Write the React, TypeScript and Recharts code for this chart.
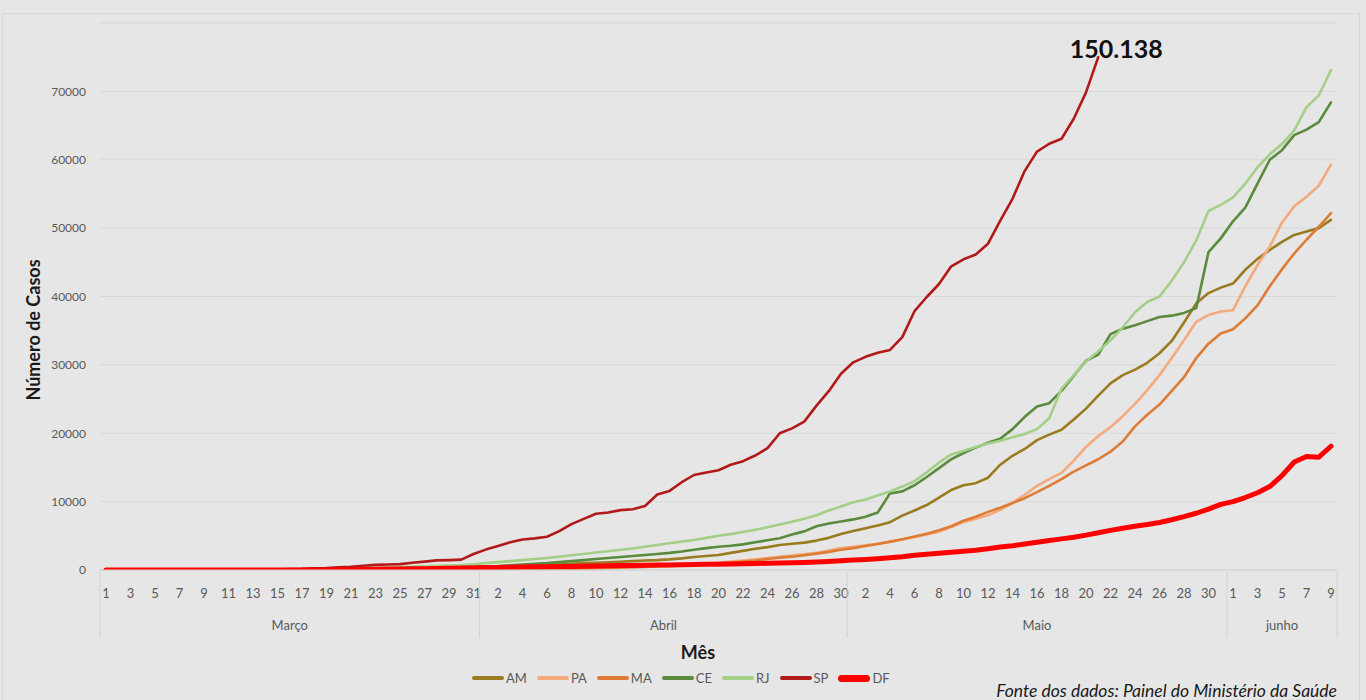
import React from 'react';
import { LineChart, Line, XAxis, YAxis, CartesianGrid } from 'recharts';

// ---------- categories ----------
const monthNames = ['Março', 'Abril', 'Maio', 'junho'];
const monthLengths = [31, 30, 31, 9];
const yTicks = [0, 10000, 20000, 30000, 40000, 50000, 60000, 70000];
const spTotalLabel = '150.138';

// ---------- series (Mar 1 .. Jun 9) ----------
const AM = [
  0, 0, 0, 0, 0, 0, 0, 0, 0, 0, 0, 0, 1, 1, 1, 1, 2, 3, 7, 11, 26, 32, 47, 54, 67, 81, 111, 140, 151, 175, 200,
  230, 260, 310, 400, 530, 640, 800, 900, 1000, 1050, 1120, 1200, 1300, 1400, 1450, 1550, 1700, 1900, 2050, 2200,
  2500, 2800, 3100, 3350, 3650, 3850, 4000, 4300, 4700, 5250,
  5700, 6100, 6500, 7000, 7950, 8700, 9500, 10600, 11700, 12400, 12700, 13500, 15400, 16700, 17700, 19000, 19800,
  20500, 22000, 23600, 25500, 27300, 28500, 29300, 30300, 31700, 33500, 36200, 39000, 40500, 41300,
  41900, 43900, 45500, 46800, 48000, 49000, 49500, 50000, 51200,
];
const PA = [
  0, 0, 0, 0, 0, 0, 0, 0, 0, 0, 0, 0, 0, 0, 0, 0, 0, 1, 1, 2, 4, 5, 11, 13, 18, 21, 26, 28, 33, 37, 41,
  50, 60, 80, 100, 120, 140, 170, 200, 250, 300, 350, 400, 450, 520, 600, 680, 780, 880, 980, 1100,
  1250, 1400, 1550, 1750, 1950, 2100, 2300, 2500, 2850, 3200,
  3400, 3600, 3850, 4100, 4450, 4800, 5200, 5600, 6300, 7000, 7500, 8000, 8800, 9800, 11000, 12300, 13300,
  14200, 16000, 18000, 19600, 20900, 22500, 24300, 26300, 28500, 31000, 33600, 36300, 37300, 37800,
  38000, 41500, 44600, 47300, 50800, 53200, 54600, 56200, 59300,
];
const MA = [
  0, 0, 0, 0, 0, 0, 0, 0, 0, 0, 0, 0, 0, 0, 0, 0, 0, 0, 0, 1, 2, 2, 3, 8, 10, 22, 24, 31, 36, 38, 43,
  50, 60, 80, 100, 120, 140, 170, 200, 230, 260, 300, 350, 400, 460, 530, 600, 680, 770, 870, 980,
  1100, 1250, 1400, 1600, 1800, 1950, 2150, 2400, 2650, 2950,
  3200, 3500, 3800, 4150, 4500, 4900, 5300, 5800, 6400, 7200, 7800, 8500, 9100, 9800, 10500, 11400, 12300,
  13300, 14400, 15300, 16200, 17300, 18800, 21000, 22700, 24200, 26200, 28200, 31000, 33100, 34600,
  35200, 36800, 38700, 41500, 44000, 46300, 48300, 50200, 52200,
];
const CE = [
  0, 0, 0, 0, 0, 0, 0, 0, 0, 0, 0, 0, 0, 0, 0, 9, 10, 20, 20, 68, 84, 125, 163, 182, 200, 235, 282, 314, 348, 372, 401,
  480, 560, 680, 800, 900, 1000, 1150, 1300, 1450, 1600, 1750, 1900, 2050, 2200, 2350, 2500, 2700, 2950, 3200, 3400,
  3550, 3750, 4050, 4350, 4650, 5200, 5650, 6400, 6800, 7100,
  7400, 7800, 8400, 11200, 11500, 12400, 13600, 14900, 16200, 17100, 17900, 18600, 19200, 20600, 22400, 23900, 24400,
  26200, 28400, 30600, 31500, 34500, 35300, 35800, 36400, 37000, 37200, 37600, 38300, 46500, 48500,
  51000, 53000, 56500, 60000, 61400, 63600, 64400, 65500, 68400,
];
const RJ = [
  0, 0, 0, 0, 1, 1, 1, 1, 2, 3, 13, 16, 19, 24, 31, 33, 39, 65, 109, 119, 186, 233, 305, 370, 421, 493, 558, 600, 657, 708, 832,
  1000, 1150, 1300, 1450, 1600, 1750, 1950, 2150, 2350, 2550, 2750, 2950, 3150, 3400, 3650, 3900, 4150, 4400, 4700, 5000,
  5250, 5550, 5900, 6250, 6650, 7050, 7500, 8000, 8700, 9300,
  9900, 10300, 10900, 11500, 12200, 13000, 14300, 15700, 16900, 17400, 18000, 18500, 18900, 19400, 19900, 20600, 22200,
  26500, 28500, 30500, 32000, 33600, 35500, 37700, 39200, 40000, 42300, 45000, 48200, 52500, 53400,
  54500, 56500, 58900, 60800, 62300, 64300, 67700, 69400, 73100,
];
const SP: (number | null)[] = [
  0, 1, 1, 1, 1, 1, 4, 4, 8, 10, 12, 16, 26, 56, 64, 136, 164, 240, 286, 396, 459, 631, 745, 810, 862, 1052, 1223, 1406, 1451, 1517, 2339,
  2981, 3506, 4048, 4466, 4620, 4866, 5682, 6708, 7480, 8216, 8419, 8755, 8895, 9371, 11043, 11568, 12841, 13894, 14267, 14580,
  15385, 15914, 16740, 17826, 20004, 20715, 21696, 24041, 26158, 28698,
  30374, 31174, 31772, 32187, 34053, 37853, 39928, 41830, 44411, 45444, 46131, 47719, 51097, 54286, 58378, 61183, 62345,
  63066, 65995, 69859, 75000,
  null, null, null, null, null, null, null, null, null, null,
  null, null, null, null, null, null, null, null, null,
];
const DF = [
  0, 0, 0, 0, 0, 0, 1, 1, 1, 1, 1, 2, 2, 2, 2, 2, 3, 3, 3, 26, 43, 65, 117, 131, 147, 183, 200, 230, 260, 289, 312,
  355, 370, 400, 430, 470, 480, 500, 520, 560, 590, 620, 640, 660, 690, 720, 740, 770, 800, 830, 850,
  880, 920, 950, 980, 1010, 1050, 1100, 1170, 1250, 1340,
  1450, 1550, 1660, 1800, 1950, 2150, 2300, 2450, 2600, 2750, 2900, 3100, 3350, 3550, 3800, 4050, 4300,
  4550, 4800, 5100, 5450, 5800, 6100, 6400, 6650, 6950, 7350, 7800, 8300, 8900, 9600,
  10000, 10600, 11300, 12200, 13800, 15800, 16600, 16500, 18100,
];

const series = [
  { key: 'AM', color: '#9a7b1f', width: 2.6, values: AM },
  { key: 'PA', color: '#f4aa7c', width: 2.6, values: PA },
  { key: 'MA', color: '#de7c35', width: 2.6, values: MA },
  { key: 'CE', color: '#5a8a3c', width: 2.6, values: CE },
  { key: 'RJ', color: '#a3cf86', width: 2.6, values: RJ },
  { key: 'SP', color: '#b21a1a', width: 2.6, values: SP },
  { key: 'DF', color: '#ff0000', width: 5, values: DF },
];

// ---------- derived tables ----------
const days: number[] = [];
const monthStart: number[] = [];
monthLengths.forEach((len) => {
  monthStart.push(days.length);
  for (let d = 1; d <= len; d++) days.push(d);
});
const N = days.length;
const data = days.map((d, i) => {
  const row: Record<string, number | null> = { idx: i, day: d };
  series.forEach((s) => {
    row[s.key] = s.values[i] as number | null;
  });
  return row;
});
const spLast = SP.reduce((acc: number, v, i) => (v != null ? i : acc), 0);

// ---------- layout ----------
const W = 1366;
const H = 700;
const PLOT_LEFT = 100;
const PLOT_RIGHT = 1337;
const PLOT_TOP = 23;
const PLOT_BOTTOM = 570;
const PAD = 6;
const STEP = (PLOT_RIGHT - PLOT_LEFT - 2 * PAD) / (N - 1);
const YAXIS_W = 60;
const XAXIS_H = 70;
const FONT = 'Lato, "Open Sans", sans-serif';
const GREY = '#595959';
const SEP = '#d2d2d2';

function DayTick(props: any) {
  const { x } = props;
  const i: number = props.index ?? props.payload?.index;
  const els: React.ReactNode[] = [];
  if (i % 2 === 0) {
    els.push(
      <text key="d" x={x} y={598} textAnchor="middle" fontSize={13} fill={GREY} fontFamily={FONT}>
        {days[i]}
      </text>
    );
  }
  const m = monthStart.indexOf(i);
  if (m >= 0) {
    const left = x - STEP / 2;
    els.push(<line key="s" x1={left} x2={left} y1={PLOT_BOTTOM + 2} y2={638} stroke={SEP} strokeWidth={1} />);
    els.push(
      <text key="m" x={left + (monthLengths[m] * STEP) / 2} y={630} textAnchor="middle" fontSize={13} fill={GREY} fontFamily={FONT}>
        {monthNames[m]}
      </text>
    );
  }
  if (i === N - 1) {
    const right = x + STEP / 2;
    els.push(<line key="e" x1={right} x2={right} y1={PLOT_BOTTOM + 2} y2={638} stroke={SEP} strokeWidth={1} />);
  }
  return <g>{els}</g>;
}

function SpLabel(props: any) {
  const { x, y, index } = props;
  if (index !== spLast || x == null || y == null) return null;
  return (
    <text x={x + 18} y={y + 1} textAnchor="middle" fontSize={25} fontWeight={700} fill="#111" fontFamily={FONT}>
      {spTotalLabel}
    </text>
  );
}

export default function App() {
  return (
    <div
      style={{
        position: 'absolute',
        left: 0,
        top: 0,
        width: W,
        height: H,
        background: '#e6e6e6',
        overflow: 'hidden',
        fontFamily: FONT,
      }}
    >
      <div
        style={{
          position: 'absolute',
          left: 2,
          top: 13,
          width: 1358,
          height: 720,
          border: '1px solid #d6d6d6',
          boxSizing: 'border-box',
        }}
      />
      <div style={{ position: 'absolute', left: 0, top: 0 }}>
        <LineChart
          width={W}
          height={H}
          data={data}
          margin={{ top: PLOT_TOP, right: W - PLOT_RIGHT, left: PLOT_LEFT - YAXIS_W, bottom: H - PLOT_BOTTOM - XAXIS_H }}
        >
          <CartesianGrid vertical={false} stroke="#d8d8d8" strokeWidth={1} />
          <XAxis
            dataKey="idx"
            type="category"
            interval={0}
            height={XAXIS_H}
            padding={{ left: PAD, right: PAD }}
            tickLine={false}
            axisLine={{ stroke: SEP }}
            tick={<DayTick />}
          />
          <YAxis
            width={YAXIS_W}
            domain={[0, 80000]}
            ticks={yTicks}
            allowDataOverflow
            axisLine={false}
            tickLine={false}
            tickSize={0}
            tickMargin={14}
            tick={{ fontSize: 12, fill: GREY, fontFamily: FONT }}
          />
          {series.map((s) => (
            <Line
              key={s.key}
              dataKey={s.key}
              type="linear"
              stroke={s.color}
              strokeWidth={s.width}
              dot={false}
              activeDot={false}
              strokeLinecap="round"
              strokeLinejoin="round"
              isAnimationActive={false}
              connectNulls={false}
              label={s.key === 'SP' ? <SpLabel /> : undefined}
            />
          ))}
        </LineChart>
      </div>
      <div
        style={{
          position: 'absolute',
          left: 18,
          top: 330,
          transform: 'translate(-50%, -50%) rotate(-90deg)',
          fontSize: 18,
          fontWeight: 700,
          color: '#1a1a1a',
          whiteSpace: 'nowrap',
          transformOrigin: 'center',
          marginLeft: 15,
        }}
      >
        Número de Casos
      </div>
      <div
        style={{
          position: 'absolute',
          left: 698,
          top: 652,
          transform: 'translate(-50%, -50%)',
          fontSize: 18,
          fontWeight: 700,
          color: '#1a1a1a',
        }}
      >
        Mês
      </div>
      <div
        style={{
          position: 'absolute',
          left: 472,
          top: 669,
          height: 18,
          display: 'flex',
          alignItems: 'center',
          gap: 10,
          fontSize: 13,
          color: GREY,
        }}
      >
        {series.map((s) => (
          <div key={s.key} style={{ display: 'flex', alignItems: 'center', gap: 2 }}>
            <span
              style={{
                display: 'inline-block',
                width: 32,
                height: s.key === 'DF' ? 7 : 4,
                borderRadius: s.key === 'DF' ? 4 : 2,
                background: s.color,
              }}
            />
            <span>{s.key}</span>
          </div>
        ))}
      </div>
      <div
        style={{
          position: 'absolute',
          right: W - 1337,
          top: 680,
          fontSize: 17.5,
          fontStyle: 'italic',
          color: '#1a1a1a',
          whiteSpace: 'nowrap',
        }}
      >
        Fonte dos dados: Painel do Ministério da Saúde
      </div>
    </div>
  );
}
